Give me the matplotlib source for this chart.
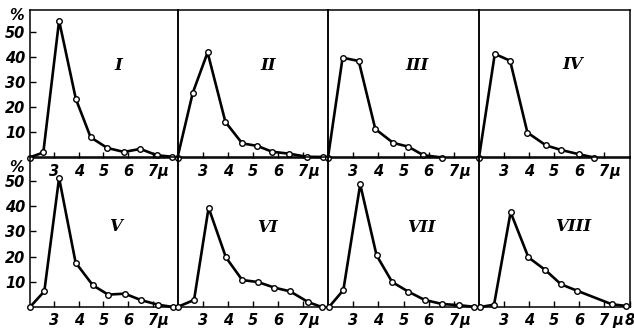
import numpy as np
import matplotlib
matplotlib.use('Agg')
import matplotlib.pyplot as plt

# size distribution, % vs diameter (micron), panels I..VIII
x1 = [2.0, 2.56, 3.2, 3.88, 4.48, 5.15, 5.83, 6.49, 7.16, 7.79]
y1 = [0, 2.0, 54.3, 23.2, 8.0, 3.8, 2.2, 3.4, 0.9, 0.3]
x2 = [2.0, 2.61, 3.2, 3.91, 4.58, 5.18, 5.77, 6.46, 7.15, 7.79]
y2 = [0, 25.7, 41.7, 14.1, 5.6, 4.6, 2.3, 1.5, 0.3, 0.2]
x3 = [2.0, 2.58, 3.22, 3.88, 4.59, 5.19, 5.79, 6.53]
y3 = [0, 39.6, 38.3, 11.3, 5.8, 4.3, 0.9, 0]
x4 = [2.0, 2.63, 3.24, 3.93, 4.67, 5.27, 5.98, 6.59]
y4 = [0, 41.1, 38.4, 9.9, 4.8, 3.0, 1.3, 0]
x5 = [2.02, 2.6, 3.2, 3.87, 4.57, 5.19, 5.86, 6.53, 7.21, 7.82]
y5 = [0, 6.2, 51.2, 17.6, 8.6, 4.9, 5.3, 2.7, 0.9, 0]
x6 = [2.0, 2.66, 3.24, 3.93, 4.58, 5.21, 5.86, 6.49, 7.22, 7.75]
y6 = [0, 2.8, 39.4, 19.7, 10.7, 9.9, 7.7, 6.2, 1.9, 0]
x7 = [2.04, 2.61, 3.28, 3.93, 4.55, 5.19, 5.84, 6.53, 7.22, 7.8]
y7 = [0, 6.7, 48.7, 20.5, 9.9, 6.1, 2.8, 1.2, 0.7, 0.1]
x8 = [2.04, 2.6, 3.26, 3.97, 4.64, 5.27, 5.9, 7.29, 7.88]
y8 = [0, 0.9, 37.6, 19.7, 14.7, 9.0, 6.5, 1.1, 0.4]

names = ['I', 'II', 'III', 'IV', 'V', 'VI', 'VII', 'VIII']
xs = [x1, x2, x3, x4, x5, x6, x7, x8]
ys = [y1, y2, y3, y4, y5, y6, y7, y8]
name_pos = [(5.6, 36.5), (5.6, 36.5), (5.55, 36.5), (5.75, 37),
            (5.5, 32), (5.6, 31.5), (5.7, 31.5), (5.75, 32)]

W, H = 634, 331
fig = plt.figure(figsize=(W / 100, H / 100), dpi=100)

xe = [29.5, 177.5, 328, 479, 629.5]
rows = [(9.5, 157.5), (157.5, 307)]  # pixel top/bottom of each row

lab = dict(fontfamily='DejaVu Sans', fontweight='bold', fontstyle='italic', fontsize=10.5)

for i in range(8):
    r, c = divmod(i, 4)
    top, bot = rows[r]
    ax = fig.add_axes([xe[c] / W, 1 - bot / H, (xe[c + 1] - xe[c]) / W, (bot - top) / H])
    ax.patch.set_visible(False)
    ax.plot(xs[i], ys[i], '-o', color='black', lw=1.9, ms=4, mfc='white', mec='black',
            mew=1.0, clip_on=False, zorder=3)
    ax.set_xlim(2, 8)
    ax.set_ylim(0, (bot - top) / 2.52)
    for s in ax.spines.values():
        s.set_linewidth(1.1)
    if i == 7:
        ax.set_xticks([3, 4, 5, 6, 7, 8], ['3', '4', '5', '6', '7', '8'])
        ax.set_xticks([7.52], ['μ'], minor=True)
    else:
        ax.set_xticks([3, 4, 5, 6, 7], ['3', '4', '5', '6', '7'])
        ax.set_xticks([7.42], ['μ'], minor=True)
    ax.tick_params(axis='x', which='major', direction='in', length=4, width=1, pad=4.5)
    ax.tick_params(axis='x', which='minor', length=0, pad=4.5)
    for t in ax.get_xticklabels(which='both'):
        t.set(**lab)
    if c == 0:
        ax.set_yticks([10, 20, 30, 40, 50], ['10', '20', '30', '40', '50'])
        ax.tick_params(axis='y', direction='in', length=4, width=1, pad=3)
        for t in ax.get_yticklabels():
            t.set(**lab)
    else:
        ax.set_yticks([])
    ax.text(name_pos[i][0], name_pos[i][1], names[i], fontfamily='DejaVu Serif',
            fontweight='bold', fontstyle='italic', fontsize=12, ha='center', va='center')

fig.text(17 / W, 1 - 16 / H, '%', ha='center', va='center', **lab)
fig.text(17 / W, 1 - 168 / H, '%', ha='center', va='center', **lab)

fig.savefig('out.png', dpi=100)
